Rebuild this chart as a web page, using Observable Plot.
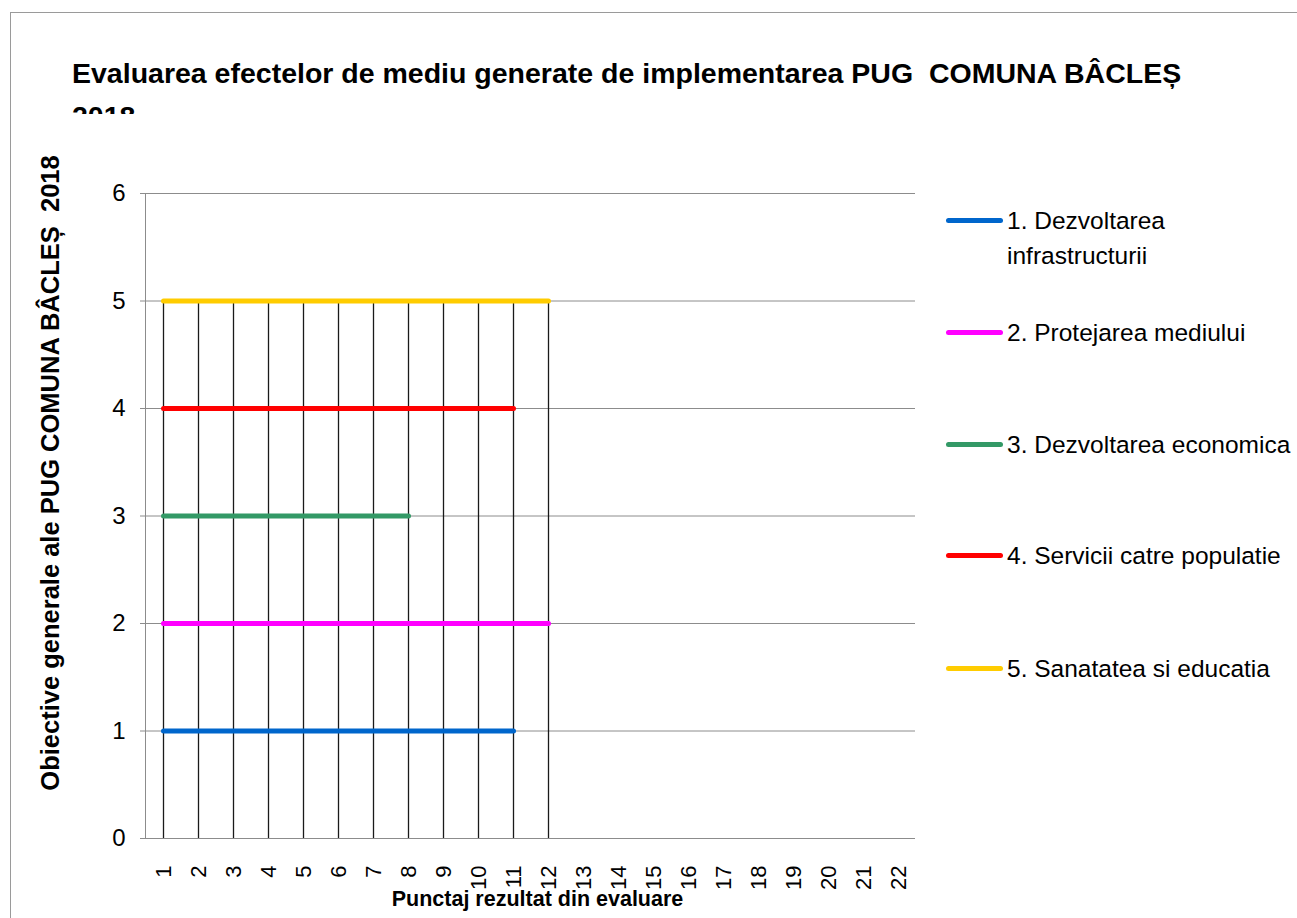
<!DOCTYPE html>
<html>
<head>
<meta charset="utf-8">
<script src="https://cdn.jsdelivr.net/npm/d3@7"></script>
<script src="https://cdn.jsdelivr.net/npm/@observablehq/plot@0.6"></script>
<style>
  html, body { margin: 0; padding: 0; background: #fff; overflow: hidden; }
  #wrap { position: relative; width: 1297px; height: 918px; overflow: hidden;
          font-family: "Liberation Sans Narrow", "Liberation Sans", Arial, sans-serif; }
  #border { position: absolute; left: 10px; top: 12px; width: 1400px; height: 1000px;
            border: 1.5px solid #9a9a9a; box-sizing: border-box; }
  #title { position: absolute; left: 72px; top: 52px; height: 62px; overflow: hidden;
           font-weight: bold; font-size: 28.5px; line-height: 43px; color: #000; width: 1128px;
           white-space: pre-wrap; }
  #chart { position: absolute; left: 0; top: 0; }
  .leg { position: absolute; left: 946px; display: flex; align-items: flex-start; }
  .sw { width: 57px; height: 5px; border-radius: 3px; margin-top: 15px; flex: none; }
  .lt { margin-left: 4px; font-size: 24.5px; line-height: 35px; width: 286px; color: #000; }
</style>
</head>
<body>
<div id="wrap">
  <div id="border"></div>
  <div id="title"></div>
  <div id="chart"></div>
  <div id="legend"></div>
</div>
<script>
// ---- data ----
const titleText = "Evaluarea efectelor de mediu generate de implementarea PUG  COMUNA BÂCLEȘ 2018";
const xTitle = "Punctaj rezultat din evaluare";
const yTitle = "Obiective generale ale PUG COMUNA BÂCLEȘ  2018";
const categories = ["1","2","3","4","5","6","7","8","9","10","11","12","13","14","15","16","17","18","19","20","21","22"];
const yTicks = [0, 1, 2, 3, 4, 5, 6];
const seriesNames = [
  "1.  Dezvoltarea infrastructurii",
  "2.  Protejarea mediului",
  "3.  Dezvoltarea economica",
  "4.  Servicii catre populatie",
  "5.  Sanatatea si educatia"
];
const seriesColors = ["#0066CC", "#FF00FF", "#339966", "#FF0000", "#FFCC00"];
const s1 = [1, 1, 1, 1, 1, 1, 1, 1, 1, 1, 1];
const s2 = [2, 2, 2, 2, 2, 2, 2, 2, 2, 2, 2, 2];
const s3 = [3, 3, 3, 3, 3, 3, 3, 3];
const s4 = [4, 4, 4, 4, 4, 4, 4, 4, 4, 4, 4];
const s5 = [5, 5, 5, 5, 5, 5, 5, 5, 5, 5, 5, 5];
const seriesValues = [s1, s2, s3, s4, s5];

// ---- build table ----
const rows = [];
seriesValues.forEach((vals, i) => {
  vals.forEach((v, j) => rows.push({cat: categories[j], value: v, series: seriesNames[i]}));
});
const drops = [];
categories.forEach((c, j) => {
  const vs = seriesValues.filter(a => j < a.length).map(a => a[j]);
  if (vs.length) drops.push({cat: c, top: d3.max(vs)});
});

document.getElementById("title").textContent = titleText;

const font = "'Liberation Sans Narrow', 'Liberation Sans', Arial, sans-serif";
const chart = Plot.plot({
  width: 1297,
  height: 918,
  marginLeft: 145,
  marginRight: 382,
  marginTop: 193,
  marginBottom: 80,
  style: {fontFamily: font, background: "transparent", overflow: "visible", color: "#000"},
  x: {type: "point", domain: categories, padding: 0.5},
  y: {domain: [0, 6]},
  color: {domain: seriesNames, range: seriesColors},
  marks: [
    Plot.ruleY(yTicks, {stroke: "#8c8c8c", strokeWidth: 1}),
    Plot.frame({anchor: "left", stroke: "#8c8c8c"}),
    Plot.axisY({ticks: yTicks, tickSize: 5, tickPadding: 15, fontSize: 24, stroke: "#8c8c8c", label: null, tickFormat: d => String(d)}),
    Plot.axisX({tickRotate: -90, tickSize: 0, tickPadding: 27, fontSize: 22, label: null}),
    Plot.ruleX(drops, {x: "cat", y1: 0, y2: "top", stroke: "#1a1a1a", strokeWidth: 1.3}),
    Plot.line(rows, {x: "cat", y: "value", z: "series", stroke: "series", strokeWidth: 5, strokeLinecap: "round"}),
    Plot.text([xTitle], {frameAnchor: "bottom", textAnchor: "middle", lineAnchor: "middle", dx: 7, dy: 61, fontWeight: "bold", fontSize: 21.5}),
    Plot.text([yTitle], {frameAnchor: "left", textAnchor: "middle", lineAnchor: "middle", rotate: -90, dx: -95, dy: -43, fontWeight: "bold", fontSize: 25.5})
  ]
});
document.getElementById("chart").appendChild(chart);

// legend
const legY = [220, 332, 444, 555, 668];
const leg = document.getElementById("legend");
seriesNames.forEach((n, i) => {
  const d = document.createElement("div");
  d.className = "leg";
  d.style.top = (legY[i] - 17) + "px";
  const sw = document.createElement("span");
  sw.className = "sw";
  sw.style.background = seriesColors[i];
  const t = document.createElement("span");
  t.className = "lt";
  t.textContent = n;
  d.appendChild(sw); d.appendChild(t);
  leg.appendChild(d);
});
</script>
</body>
</html>
